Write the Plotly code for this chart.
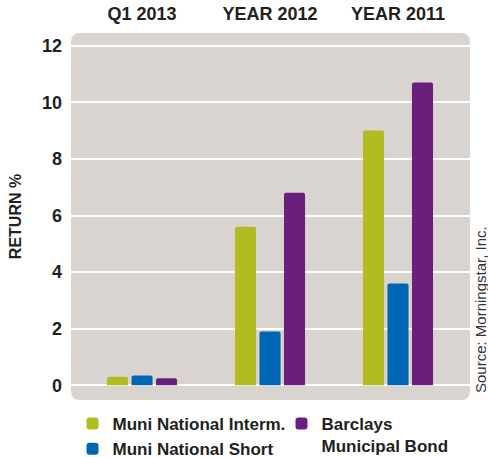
import plotly.graph_objects as go

categories = ["Q1 2013", "YEAR 2012", "YEAR 2011"]
series_names = ["Muni National Interm.", "Muni National Short", "Barclays<br>Municipal Bond"]
muni_interm = [0.3, 5.6, 9.0]
muni_short = [0.35, 1.9, 3.6]
barclays = [0.25, 6.8, 10.7]
y_ticks = [0, 2, 4, 6, 8, 10, 12]

colors = ["#B0BC22", "#0066B3", "#6B1F7C"]
BG = "#D9D4D0"
FONT = "Liberation Sans"
DARK = "#231F20"

W, H = 488, 457
ML, MR, MT, MB = 71, 18, 33, 57
PW, PH = W - ML - MR, H - MT - MB

xpos = list(range(len(categories)))

fig = go.Figure()
legends = ["legend", "legend", "legend2"]
for name, vals, col, lg in zip(series_names, [muni_interm, muni_short, barclays], colors, legends):
    fig.add_trace(go.Bar(x=xpos, y=vals, name=name, marker_color=col,
                         marker_line_width=0, legend=lg))

# rounded background panel
r = 9
rx, ry = r / PW, r / PH
path = (f"M {rx},0 L {1-rx},0 Q 1,0 1,{ry} L 1,{1-ry} Q 1,1 {1-rx},1 "
        f"L {rx},1 Q 0,1 0,{1-ry} L 0,{ry} Q 0,0 {rx},0 Z")
fig.add_shape(type="path", path=path, xref="paper", yref="paper",
              fillcolor=BG, line_width=0, layer="below")

fig.add_annotation(text="Source: Morningstar, Inc.", xref="paper", yref="paper",
                   x=(480 - ML) / PW, y=(400 - 310) / PH, textangle=-90,
                   xanchor="center", yanchor="middle",
                   showarrow=False, font=dict(family=FONT, size=15, color="#333"))

leg_font = dict(size=17, family=FONT, color=DARK, weight="bold")
fig.update_layout(
    width=W, height=H, autosize=False,
    margin=dict(l=ML, r=MR, t=MT, b=MB, autoexpand=False),
    paper_bgcolor="white", plot_bgcolor="rgba(0,0,0,0)",
    barmode="group", bargap=0.426, bargroupgap=0.14, barcornerradius=2,
    font=dict(family=FONT, color=DARK),
    xaxis=dict(side="top", range=[-0.555, 2.5625], tickvals=xpos, ticktext=categories,
               showgrid=False, zeroline=False, showline=False, ticks="", automargin=False,
               tickfont=dict(size=18, family=FONT, color=DARK, weight="bold"),
               ticklabelstandoff=8, fixedrange=True),
    yaxis=dict(range=[-0.52, 12.45], tickvals=y_ticks, showgrid=True, automargin=False,
               gridcolor="white", gridwidth=2, zeroline=True, zerolinecolor="white",
               zerolinewidth=2, showline=False, ticks="",
               tickfont=dict(size=18, family=FONT, color=DARK, weight="bold"),
               ticklabelstandoff=8, fixedrange=True,
               title=dict(text="RETURN %", standoff=16,
                          font=dict(size=16, family=FONT, color=DARK, weight="bold"))),
    legend=dict(x=(72.5 - ML) / PW, y=-(406 - 400) / PH, xanchor="left", yanchor="top",
                orientation="v", font=leg_font,
                bgcolor="rgba(0,0,0,0)", tracegroupgap=0, itemclick=False),
    legend2=dict(x=(281.5 - ML) / PW, y=-(406 - 400) / PH, xanchor="left", yanchor="top",
                 orientation="v", valign="top", font=leg_font,
                 bgcolor="rgba(0,0,0,0)", itemclick=False),
    showlegend=True,
)

fig.write_html("out.html", config={"displayModeBar": False},
               post_script="document.body.style.margin='0';document.body.style.overflow='hidden';")
